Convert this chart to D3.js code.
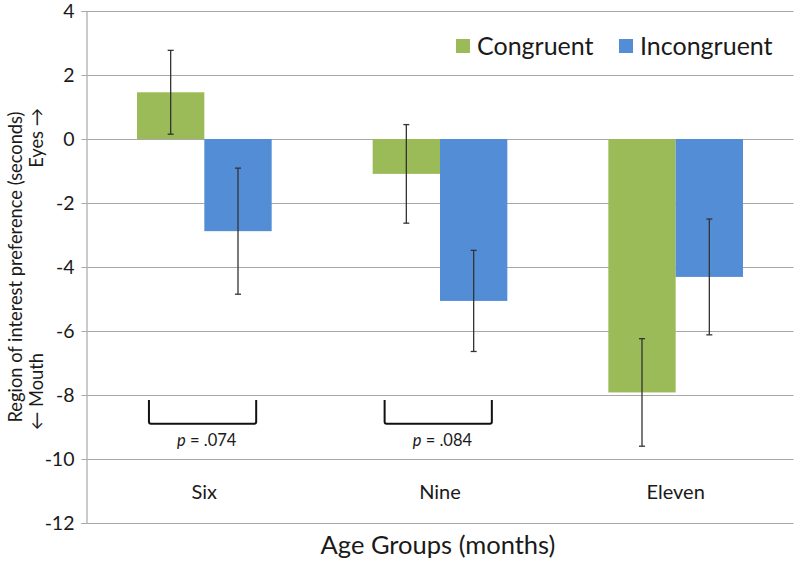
<!DOCTYPE html>
<html><head><meta charset="utf-8">
<script src="https://cdn.jsdelivr.net/npm/d3@7"></script>
<style>body{margin:0;background:#fff}svg{display:block}text{font-family:Lato,"Open Sans",sans-serif;fill:#1a1a1a}</style>
</head><body><svg id="c" width="800" height="563"></svg>
<script>
const categories = ["Six", "Nine", "Eleven"];
const series = ["Congruent", "Incongruent"];
const congruent = [1.46, -1.09, -7.92];
const incongruent = [-2.88, -5.06, -4.31];
const congruentErr = [1.31, 1.54, 1.68];
const incongruentErr = [1.97, 1.58, 1.81];
const yTicks = [4, 2, 0, -2, -4, -6, -8, -10, -12];
const comparisons = [{cat: "Six", label: ".074"}, {cat: "Nine", label: ".084"}];
const colors = ["#9BBB59", "#538DD5"];

const svg = d3.select("#c");
const mLeft = 86.5, mRight = 793.5, mTop = 11, mBottom = 523;
const y = d3.scaleLinear().domain([-12, 4]).range([mBottom, mTop]);
const x0 = d3.scaleBand().domain(categories).range([mLeft, mRight]).padding(0);
const x1 = d3.scaleBand().domain(series).range([0, x0.bandwidth()]).paddingInner(0).paddingOuter(0.75);

// gridlines
svg.append("g").selectAll("line").data(yTicks).join("line")
  .attr("x1", mLeft).attr("x2", mRight)
  .attr("y1", d => Math.round(y(d)) + 0.5).attr("y2", d => Math.round(y(d)) + 0.5)
  .attr("stroke", "#a8a8a8").attr("stroke-width", 1.2);

// y axis
const ax = svg.append("g").attr("transform", `translate(${mLeft},0)`)
  .call(d3.axisLeft(y).tickValues(yTicks).tickSize(5).tickPadding(7).tickFormat(d => String(d)));
ax.select(".domain").attr("stroke", "#a8a8a8").attr("stroke-width", 1.2);
ax.selectAll(".tick line").attr("stroke", "#a8a8a8");
ax.selectAll(".tick text").attr("font-size", 19.5).attr("font-family", "Lato, 'Open Sans', sans-serif").attr("fill", "#1a1a1a");

// bars
const rows = categories.map((c, i) => ({cat: c, vals: [
  {s: series[0], v: congruent[i], e: congruentErr[i], col: colors[0]},
  {s: series[1], v: incongruent[i], e: incongruentErr[i], col: colors[1]}]}));
const g = svg.append("g").selectAll("g").data(rows).join("g")
  .attr("transform", d => `translate(${x0(d.cat)},0)`);
g.selectAll("rect").data(d => d.vals).join("rect")
  .attr("x", d => x1(d.s)).attr("width", x1.bandwidth())
  .attr("y", d => y(Math.max(0, d.v))).attr("height", d => Math.abs(y(d.v) - y(0)))
  .attr("fill", d => d.col);
// error bars
const eb = g.selectAll("g.eb").data(d => d.vals).join("g").attr("class", "eb")
  .attr("transform", d => `translate(${x1(d.s) + x1.bandwidth() / 2},0)`);
eb.append("line").attr("x1", 0).attr("x2", 0)
  .attr("y1", d => y(d.v + d.e)).attr("y2", d => y(d.v - d.e))
  .attr("stroke", "#333").attr("stroke-width", 1.3);
eb.selectAll("line.cap").data(d => [d.v + d.e, d.v - d.e]).join("line").attr("class", "cap")
  .attr("x1", -3).attr("x2", 3).attr("y1", d => y(d)).attr("y2", d => y(d))
  .attr("stroke", "#333").attr("stroke-width", 1.3);

// brackets
const br = svg.append("g").selectAll("g").data(comparisons).join("g");
br.append("path")
  .attr("d", d => {
    const a = x0(d.cat) + x0.bandwidth() * 0.265, b = x0(d.cat) + x0.bandwidth() * 0.72;
    const t = y(-8.16), u = y(-8.9);
    return `M${a},${t} L${a},${u - 2} Q${a},${u} ${a + 2},${u} L${b - 2},${u} Q${b},${u} ${b},${u - 2} L${b},${t}`;
  })
  .attr("fill", "none").attr("stroke", "#111").attr("stroke-width", 2);
const pt = br.append("text")
  .attr("x", d => x0(d.cat) + x0.bandwidth() * 0.51).attr("y", y(-9.42) + 6)
  .attr("text-anchor", "middle").attr("font-size", 16.5);
pt.append("tspan").attr("font-style", "italic").text("p");
pt.append("tspan").text(d => " = " + d.label);

// category labels
svg.append("g").selectAll("text").data(categories).join("text")
  .attr("x", d => x0(d) + x0.bandwidth() / 2).attr("y", 499)
  .attr("text-anchor", "middle").attr("font-size", 20).text(d => d);

// x title
svg.append("text").attr("x", 438).attr("y", 554).attr("text-anchor", "middle")
  .attr("font-size", 25.5).text("Age Groups (months)");

// y titles
svg.append("text").attr("transform", "translate(22,267) rotate(-90)")
  .attr("text-anchor", "middle").attr("font-size", 18.3).text("Region of interest preference (seconds)");
svg.append("text").attr("transform", "translate(43,430) rotate(-90)")
  .attr("text-anchor", "start").attr("font-size", 18.3).text("\u2190 Mouth");
svg.append("text").attr("transform", "translate(43,108) rotate(-90)")
  .attr("text-anchor", "end").attr("font-size", 18.3).text("Eyes \u2192");

// legend
const lg = svg.append("g").selectAll("g").data(series).join("g")
  .attr("transform", (d, i) => `translate(${[456, 619][i]},39)`);
lg.append("rect").attr("width", 14).attr("height", 14).attr("fill", (d, i) => colors[i]);
lg.append("text").attr("x", 21).attr("y", 16).attr("font-size", 25).text(d => d);
</script></body></html>
